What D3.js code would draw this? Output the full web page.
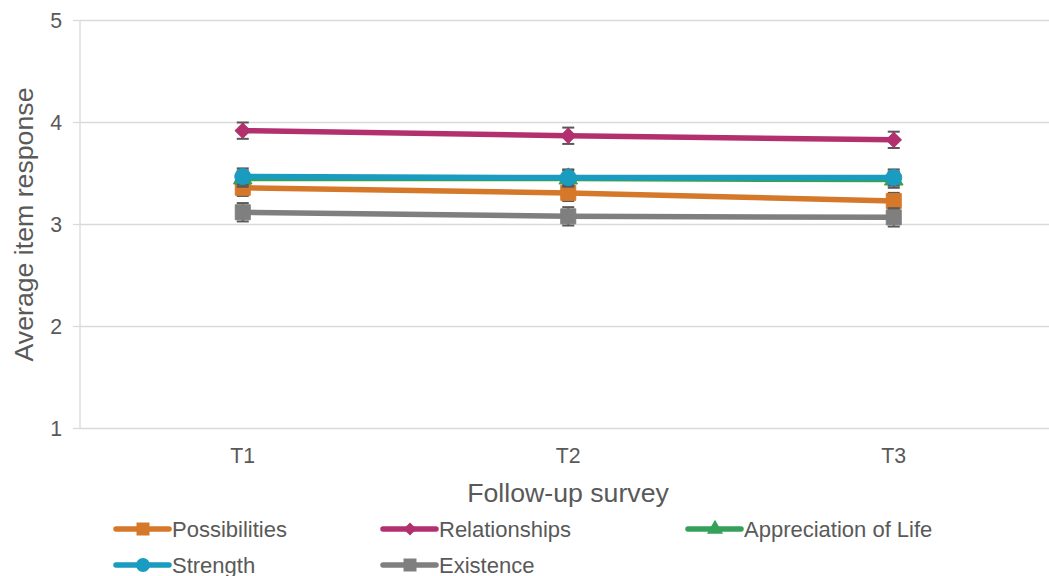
<html>
<head>
<meta charset="utf-8">
<title>Follow-up survey</title>
<style>
  body { margin: 0; background: #fff; }
  svg text { font-family: Arial, "Liberation Sans", sans-serif; fill: #595959; }
</style>
<script src="https://d3js.org/d3.v7.min.js"></script>
</head>
<body>
<script>
var waves = ["T1", "T2", "T3"];
var seriesNames = ["Possibilities", "Relationships", "Appreciation of Life", "Strength", "Existence"];
var possibilities = [3.36, 3.31, 3.23];
var relationships = [3.92, 3.87, 3.83];
var appreciation = [3.45, 3.45, 3.44];
var strength = [3.47, 3.46, 3.46];
var existence = [3.12, 3.08, 3.07];
var errPossibilities = [0.08, 0.08, 0.08];
var errRelationships = [0.08, 0.08, 0.08];
var errAppreciation = [0.08, 0.08, 0.08];
var errStrength = [0.08, 0.08, 0.08];
var errExistence = [0.09, 0.09, 0.09];
var yTicks = [1, 2, 3, 4, 5];

var colors = ["#D5782A", "#B3306F", "#35A05A", "#1A9BC0", "#7F7F7F"];
var symbols = [d3.symbolSquare, d3.symbolSquare, d3.symbolTriangle, d3.symbolCircle, d3.symbolSquare];
var symRotate = [0, 45, 0, 0, 0];
var symSizes = [225, 115, 150, 200, 225];

var values = [possibilities, relationships, appreciation, strength, existence];
var errors = [errPossibilities, errRelationships, errAppreciation, errStrength, errExistence];
var series = seriesNames.map((n, i) => ({
  name: n, color: colors[i], symbol: symbols[i], size: symSizes[i], rot: symRotate[i],
  points: waves.map((w, j) => ({wave: w, v: values[i][j], e: errors[i][j]}))
}));

var width = 1049, height = 576;
var plotLeft = 80, plotTop = 20.5, plotBottom = 428.5, bandW = 325.5;

var svg = d3.select("body").append("svg")
  .attr("width", width).attr("height", height);

var x = d3.scaleBand().domain(waves).range([plotLeft, plotLeft + bandW * waves.length]);
var y = d3.scaleLinear().domain([1, 5]).range([plotBottom, plotTop]);
var cx = d => x(d) + x.bandwidth() / 2;

// gridlines
svg.append("g").selectAll("line").data(yTicks).enter().append("line")
  .attr("x1", plotLeft).attr("x2", width)
  .attr("y1", d => y(d)).attr("y2", d => y(d))
  .attr("stroke", "#d9d9d9").attr("stroke-width", 1.3);

// y axis line + ticks
svg.append("line").attr("x1", plotLeft).attr("x2", plotLeft)
  .attr("y1", y(5)).attr("y2", y(1))
  .attr("stroke", "#d9d9d9").attr("stroke-width", 1.3);
svg.append("g").selectAll("line").data(yTicks).enter().append("line")
  .attr("x1", plotLeft - 7).attr("x2", plotLeft)
  .attr("y1", d => y(d)).attr("y2", d => y(d))
  .attr("stroke", "#d9d9d9").attr("stroke-width", 1.3);

svg.append("g").selectAll("text").data(yTicks).enter().append("text")
  .attr("x", 62).attr("y", d => y(d)).attr("dy", "0.35em")
  .attr("text-anchor", "end").style("font-size", "21.3px")
  .text(d => d);

svg.append("g").selectAll("text").data(waves).enter().append("text")
  .attr("x", d => cx(d)).attr("y", 463)
  .attr("text-anchor", "middle").style("font-size", "21.3px")
  .text(d => d);

svg.append("text").attr("x", 568).attr("y", 502)
  .attr("text-anchor", "middle").style("font-size", "26.7px")
  .text("Follow-up survey");

svg.append("text")
  .attr("transform", "translate(33," + ((y(5) + y(1)) / 2) + ") rotate(-90)")
  .attr("text-anchor", "middle").style("font-size", "26.7px")
  .text("Average item response");

var line = d3.line().x(d => cx(d.wave)).y(d => y(d.v));

var g = svg.selectAll(".series").data(series).enter().append("g").attr("class", "series");

g.append("path")
  .attr("d", d => line(d.points))
  .attr("fill", "none").attr("stroke", d => d.color)
  .attr("stroke-width", 5.5).attr("stroke-linejoin", "round");

var eb = g.selectAll(".err").data(d => d.points).enter().append("g").attr("class", "err");
eb.append("line")
  .attr("x1", d => cx(d.wave)).attr("x2", d => cx(d.wave))
  .attr("y1", d => y(d.v - d.e)).attr("y2", d => y(d.v + d.e))
  .attr("stroke", "#595959").attr("stroke-width", 2);
eb.selectAll(".cap").data(d => [d.v - d.e, d.v + d.e].map(v => ({wave: d.wave, v: v})))
  .enter().append("line")
  .attr("x1", d => cx(d.wave) - 6).attr("x2", d => cx(d.wave) + 6)
  .attr("y1", d => y(d.v)).attr("y2", d => y(d.v))
  .attr("stroke", "#595959").attr("stroke-width", 2);

g.each(function(s) {
  d3.select(this).selectAll(".mk").data(s.points).enter().append("path")
    .attr("transform", d => "translate(" + cx(d.wave) + "," + y(d.v) + ") rotate(" + s.rot + ")")
    .attr("d", d3.symbol().type(s.symbol).size(s.size))
    .attr("fill", s.color).attr("stroke", s.color).attr("stroke-width", 1)
    .attr("stroke-linejoin", "round");
});

// legend
var legendPos = [[116, 529], [383, 529], [688, 529], [116, 565], [383, 565]];
var lg = svg.selectAll(".legend").data(series).enter().append("g")
  .attr("class", "legend")
  .attr("transform", (d, i) => "translate(" + legendPos[i][0] + "," + legendPos[i][1] + ")");
lg.append("line").attr("x1", 0).attr("x2", 53)
  .attr("stroke", d => d.color).attr("stroke-width", 5.5).attr("stroke-linecap", "round");
lg.append("path").attr("transform", d => "translate(27,0) rotate(" + d.rot + ")")
  .attr("d", d => d3.symbol().type(d.symbol).size(d.size * 0.75)())
  .attr("fill", d => d.color);
lg.append("text").attr("x", 56).attr("dy", "0.35em")
  .style("font-size", "22px").text(d => d.name);
</script>
</body>
</html>
